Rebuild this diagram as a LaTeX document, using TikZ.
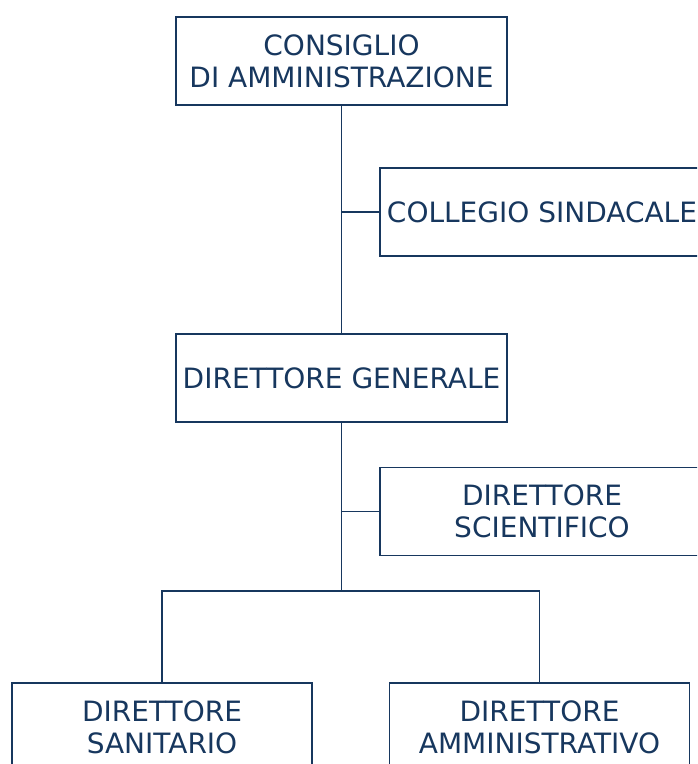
\documentclass[tikz,border=0pt]{standalone}
\usepackage{fontspec}
\setmainfont{DejaVu Sans}
\definecolor{navy}{HTML}{17375E}
\tikzset{
  orgbox/.style={draw=navy, line width=1.6pt, text=navy, align=center,
    minimum height=88pt, inner sep=0pt,
    font=\fontsize{28pt}{32pt}\selectfont},
  link/.style={draw=navy, line width=1.6pt}
}
\begin{document}
\begin{tikzpicture}[x=1pt,y=-1pt]
\useasboundingbox (0,0) rectangle (697,764);
\clip (0,0) rectangle (697,764);
\node[orgbox, minimum width=331pt] (cda) at (341.5,61) {CONSIGLIO\\DI AMMINISTRAZIONE};
\node[orgbox, minimum width=324pt] (cs) at (542,212) {COLLEGIO SINDACALE};
\node[orgbox, minimum width=331pt] (dg) at (341.5,378) {DIRETTORE GENERALE};
\node[orgbox, minimum width=324pt] (dsc) at (542,511.5) {DIRETTORE\\SCIENTIFICO};
\node[orgbox, minimum width=300pt] (dsa) at (162,727) {DIRETTORE\\SANITARIO};
\node[orgbox, minimum width=300pt] (dam) at (539.5,727) {DIRETTORE\\AMMINISTRATIVO};
\coordinate (j) at (341.5,591);
\draw[link] (cda.south) -- (dg.north);
\draw[link] (cda.south |- cs.west) -- (cs.west);
\draw[link] (dg.south) -- (j);
\draw[link] (dg.south |- dsc.west) -- (dsc.west);
\draw[link] (dsa.north) -- (dsa.north |- j) -- (dam.north |- j) -- (dam.north);
\end{tikzpicture}
\end{document}
